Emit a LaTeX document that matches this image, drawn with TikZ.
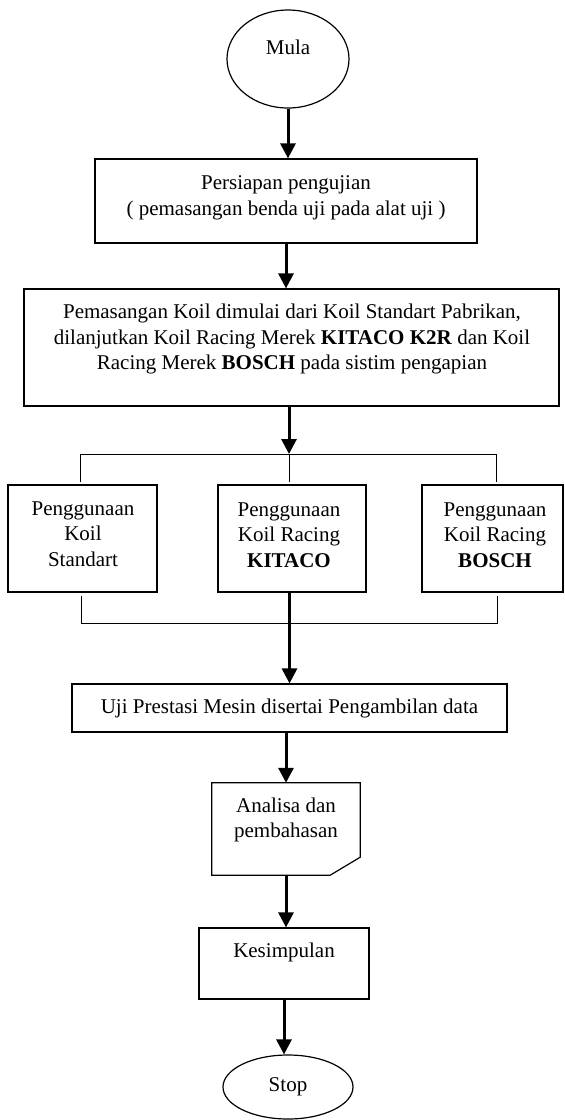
\documentclass[tikz,border=0pt]{standalone}
\usepackage{fontspec}
\setmainfont{Liberation Serif}
\usetikzlibrary{arrows.meta,shapes.geometric}
\tikzset{>={Triangle[width=15pt,length=15pt]}}
\tikzset{
  procbox/.style={draw, line width=1.2pt, inner sep=0pt},
  termnode/.style={draw, ellipse, line width=1.2pt, inner sep=0pt},
  flow/.style={->, line width=3pt},
  busline/.style={line width=1pt},
  txt/.style={align=center, inner sep=0pt, font=\fontsize{21}{25.5}\selectfont}
}

\begin{document}
\begin{tikzpicture}[x=1pt,y=-1pt]
\useasboundingbox (0,0) rectangle (565,1120);
% shapes
\node[termnode, minimum width=122pt, minimum height=98pt] (mula) at (288,59) {};
\node[procbox, minimum width=382pt, minimum height=84pt] (prep) at (286,201) {};
\node[procbox, minimum width=535pt, minimum height=117pt] (koil) at (291.5,347.5) {};
\node[procbox, minimum width=149pt, minimum height=107pt] (lbox) at (82.5,538.5) {};
\node[procbox, minimum width=148pt, minimum height=107pt] (mbox) at (292,538.5) {};
\node[procbox, minimum width=141pt, minimum height=107pt] (rbox) at (492.5,538.5) {};
\node[procbox, minimum width=435pt, minimum height=48pt] (uji) at (289.5,708) {};
\node[minimum width=148pt, minimum height=92pt, inner sep=0pt] (ana) at (286,829) {};
\draw[line width=1.2pt] (ana.north west) -- (ana.north east) -- ([yshift=18pt]ana.south east)
  -- ([xshift=-30pt]ana.south east) -- (ana.south west) -- cycle;
\node[procbox, minimum width=170pt, minimum height=71pt] (kes) at (284,963.5) {};
\node[termnode, minimum width=130pt, minimum height=64pt] (stop) at (288,1087) {};
% texts
\node[txt] (tmula) at (288,47) {Mula};
\node[txt] (tprep) at (286,198) {Persiapan pengujian\\( pemasangan benda uji pada alat uji )};
\node[txt] (tkoil) at (292,339) {Pemasangan Koil dimulai dari Koil Standart Pabrikan,\\
  dilanjutkan Koil Racing Merek \textbf{KITACO K2R} dan Koil\\
  Racing Merek \textbf{BOSCH} pada sistim pengapian};
\node[txt] (tl) at (83,534) {Penggunaan\\Koil\\Standart};
\node[txt] (tm) at (289,535) {Penggunaan\\Koil Racing\\\textbf{KITACO}};
\node[txt] (tr) at (495,535) {Penggunaan\\Koil Racing\\\textbf{BOSCH}};
\node[txt] (tuji) at (289.5,708) {Uji Prestasi Mesin disertai Pengambilan data};
\node[txt] (tana) at (286,820) {Analisa dan\\pembahasan};
\node[txt] (tkes) at (284,952) {Kesimpulan};
\node[txt] (tstop) at (288,1087) {Stop};
% bus lines
\coordinate (busL) at (80,454);
\coordinate (busM) at (289,454);
\coordinate (busR) at (496,454);
\coordinate (botL) at (81,623);
\coordinate (botR) at (497,623);
\draw[busline, shorten <=2pt, shorten >=2pt] (busL |- lbox.north) -- (busL) -- (busR) -- (busR |- rbox.north);
\draw[busline, shorten >=2pt] (busM) -- (busM |- mbox.north);
\draw[busline, shorten <=3pt, shorten >=3pt] (botL |- lbox.south) -- (botL) -- (botR) -- (botR |- rbox.south);
% arrows
\draw[flow] (mula.south) -- (mula.south |- prep.north);
\draw[flow] (prep.south) -- (prep.south |- koil.north);
\draw[flow] (busM |- koil.south) -- (busM);
\draw[flow] (uji.north |- mbox.south) -- (uji.north);
\draw[flow] (uji.south -| ana.north) -- (ana.north);
\draw[flow] (ana.south) -- (ana.south |- kes.north);
\draw[flow] (kes.south) -- (kes.south |- stop.north);
\end{tikzpicture}
\end{document}
